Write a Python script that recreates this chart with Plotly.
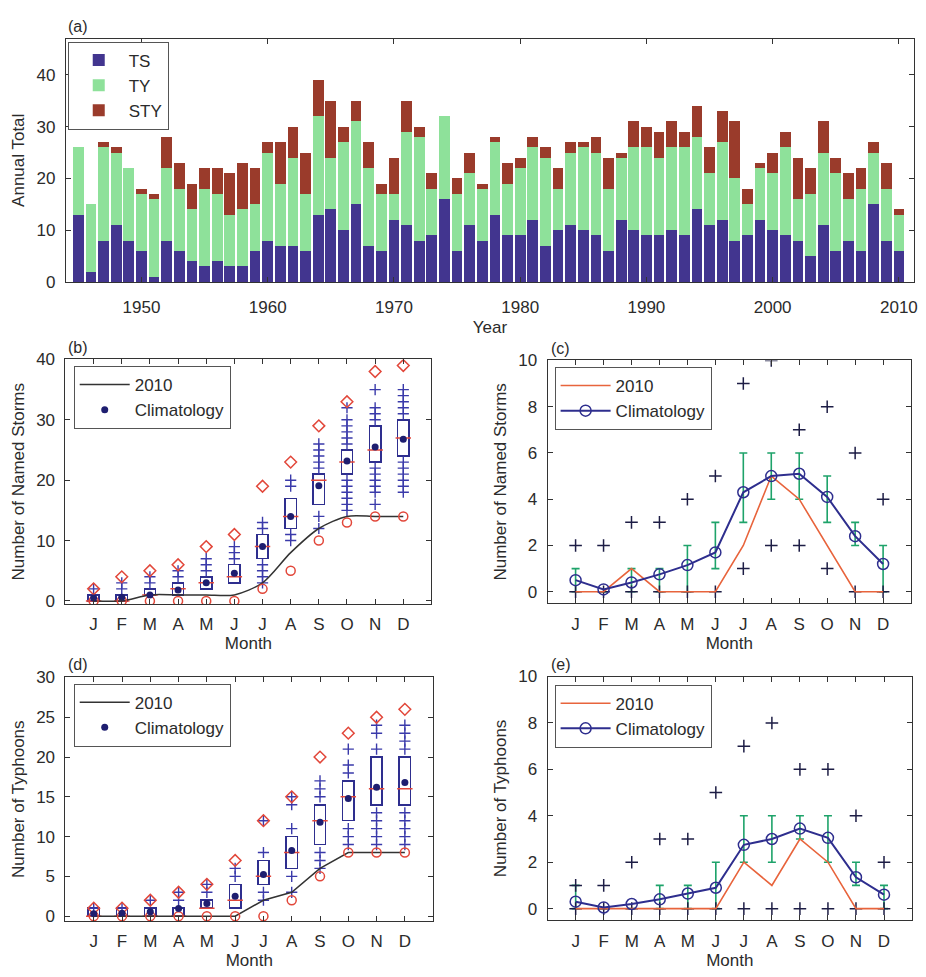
import plotly.graph_objects as go

# page body has an 8px default margin, so the figure is drawn 8px in from the top-left
OFF = 8
W, H = 926 - OFF, 977 - OFF

# ---------------- Panel (a) data ----------------
years = list(range(1945, 2011))
ts_counts = [13, 2, 8, 11, 8, 6, 1, 8, 6, 4, 3, 4, 3, 3, 6,
             8, 7, 7, 6, 13, 14, 10, 15, 7, 6,
             12, 11, 8, 9, 16, 6, 11, 8, 13, 9,
             9, 12, 7, 10, 11, 10, 9, 6, 12, 10,
             9, 9, 10, 9, 14, 11, 12, 8, 9, 12,
             10, 9, 8, 5, 11, 6, 8, 6, 15, 8,
             6]
ty_counts = [13, 13, 18, 14, 14, 11, 15, 14, 12, 10, 15, 13, 10, 11, 9,
             17, 12, 17, 11, 19, 10, 17, 16, 15, 11,
             5, 18, 20, 9, 16, 11, 10, 10, 14, 10,
             13, 14, 17, 8, 14, 16, 16, 12, 12, 16,
             17, 15, 16, 17, 14, 10, 15, 12, 6, 10,
             11, 17, 8, 12, 14, 15, 8, 12, 10, 10,
             7]
sty_counts = [0, 0, 1, 1, 0, 1, 1, 6, 5, 5, 4, 5, 8, 9, 7,
              2, 8, 6, 8, 7, 11, 3, 4, 5, 2,
              7, 6, 2, 3, 0, 3, 4, 1, 1, 4,
              2, 2, 2, 4, 2, 1, 3, 6, 1, 5,
              4, 5, 5, 3, 6, 5, 6, 11, 3, 1,
              4, 3, 8, 5, 6, 3, 5, 4, 2, 5,
              1]
year_ticks = [1950, 1960, 1970, 1980, 1990, 2000, 2010]

months = list(range(1, 13))
month_labels = ['J', 'F', 'M', 'A', 'M', 'J', 'J', 'A', 'S', 'O', 'N', 'D']

# ---------------- Panel (b) data: cumulative named storms ----------------
ns_cum_2010 = [0, 0, 1, 1, 1, 1, 3, 8, 12, 14, 14, 14]
ns_cum_mean = [0.5, 0.6, 1.0, 1.8, 3.0, 4.6, 9.0, 14.0, 19.1, 23.2, 25.5, 26.8]
ns_cum_q1 = [0, 0, 1, 1, 2, 3, 7, 12, 16, 21, 23, 24]
ns_cum_q3 = [1, 1, 2, 3, 4, 6, 11, 17, 21, 25, 29, 30]
ns_cum_med = [0, 0, 1, 2, 3, 4, 9, 14, 20, 23, 25, 27]
ns_cum_max = [2, 4, 5, 6, 9, 11, 19, 23, 29, 33, 38, 39]
ns_cum_min = [0, 0, 0, 0, 0, 0, 2, 5, 10, 13, 14, 14]
ns_cum_plus = [
    [2],
    [2, 3],
    [3, 4],
    [4, 5],
    [5, 6, 7],
    [7, 8, 9],
    [3, 4, 5, 6, 12, 13],
    [10, 11, 19, 20],
    [12, 14, 22, 23, 24, 25, 26],
    [15, 16, 17, 18, 19, 20, 26, 27, 28, 29, 30, 32],
    [16, 18, 19, 20, 21, 22, 30, 31, 32, 35],
    [18, 19, 20, 21, 22, 23, 31, 32, 33, 34, 35],
]

# ---------------- Panel (c) data: monthly named storms ----------------
ns_mon_2010 = [0, 0, 1, 0, 0, 0, 2, 5, 4, 2, 0, 0]
ns_mon_clim = [0.5, 0.1, 0.4, 0.75, 1.15, 1.7, 4.3, 5.0, 5.1, 4.1, 2.4, 1.2]
ns_mon_lo = [0, 0, 0, 0, 0, 1, 3, 4, 4, 3, 2, 0]
ns_mon_hi = [1, 0, 1, 1, 2, 3, 6, 6, 6, 5, 3, 2]
ns_mon_max = [2, 2, 3, 3, 4, 5, 9, 10, 7, 8, 6, 4]
ns_mon_min = [0, 0, 0, 0, 0, 0, 1, 2, 2, 1, 0, 0]

# ---------------- Panel (d) data: cumulative typhoons ----------------
ty_cum_2010 = [0, 0, 0, 0, 0, 0, 2, 3, 6, 8, 8, 8]
ty_cum_mean = [0.3, 0.35, 0.55, 0.95, 1.6, 2.5, 5.25, 8.25, 11.8, 14.8, 16.2, 16.8]
ty_cum_q1 = [0, 0, 0, 0, 1, 1, 4, 6, 9, 12, 14, 14]
ty_cum_q3 = [1, 1, 1, 1, 2, 4, 7, 10, 14, 17, 20, 20]
ty_cum_med = [0, 0, 0, 0, 1, 2, 5, 8, 12, 15, 16, 16]
ty_cum_max = [1, 1, 2, 3, 4, 7, 12, 15, 20, 23, 25, 26]
ty_cum_min = [0, 0, 0, 0, 0, 0, 0, 2, 5, 8, 8, 8]
ty_cum_plus = [
    [1],
    [1],
    [2],
    [2, 3],
    [3, 4],
    [5, 6],
    [2, 3, 8, 12],
    [3, 5, 11, 14, 15],
    [6, 7, 8, 15, 16, 17],
    [9, 10, 11, 18, 19, 21],
    [9, 10, 11, 12, 13, 21, 23, 24],
    [9, 10, 11, 12, 13, 21, 22, 23, 24],
]

# ---------------- Panel (e) data: monthly typhoons ----------------
ty_mon_2010 = [0, 0, 0, 0, 0, 0, 2, 1, 3, 2, 0, 0]
ty_mon_clim = [0.3, 0.05, 0.2, 0.4, 0.65, 0.9, 2.75, 3.0, 3.45, 3.05, 1.35, 0.6]
ty_mon_lo = [0, 0, 0, 0, 0, 0, 2, 2, 3, 2, 1, 0]
ty_mon_hi = [1, 0, 0, 1, 1, 2, 4, 4, 4, 4, 2, 1]
ty_mon_max = [1, 1, 2, 3, 3, 5, 7, 8, 6, 6, 4, 2]
ty_mon_min = [0, 0, 0, 0, 0, 0, 0, 0, 0, 0, 0, 0]

# ---------------- styles ----------------
FONT = "Liberation Sans, Arial, Helvetica, sans-serif"
TXT = '#2b2b2b'
C_TS = '#42358f'
C_TY = '#8ee19a'
C_STY = '#9a3b2b'
NAVY = '#2e2e8e'
BLUE_PLUS = '#3a3aaa'
RED = '#e2473a'
DARK = '#1d1d45'
ORANGE = '#e8643c'
GREEN = '#1ea36a'

fig = go.Figure()

# ---------- (a) stacked bars ----------
for name, vals, col in [('TS', ts_counts, C_TS), ('TY', ty_counts, C_TY), ('STY', sty_counts, C_STY)]:
    fig.add_trace(go.Bar(x=years, y=vals, name=name, legendgroup=name,
                         marker=dict(color=col, line=dict(width=0)),
                         xaxis='x', yaxis='y', legend='legend'))


def box_panel(xa, ya, lg, q1, q3, med, mean, mx, mn, plus, line2010, spline):
    # median (red) drawn first so the box outline covers it where it coincides with a quartile
    fig.add_trace(go.Scatter(x=months, y=med, mode='markers', showlegend=False, xaxis=xa, yaxis=ya,
                             marker=dict(symbol='line-ew', size=11, line=dict(color=RED, width=1.5))))
    # interquartile boxes
    fig.add_trace(go.Bar(x=months, base=q1, y=[b - a for a, b in zip(q1, q3)], width=0.4,
                         marker=dict(color='rgba(0,0,0,0)', line=dict(color=NAVY, width=1.5)),
                         showlegend=False, xaxis=xa, yaxis=ya, hoverinfo='skip'))
    px, py = [], []
    for m, vals in zip(months, plus):
        for v in vals:
            px.append(m)
            py.append(v)
    fig.add_trace(go.Scatter(x=px, y=py, mode='markers', showlegend=False, xaxis=xa, yaxis=ya,
                             marker=dict(symbol='cross-thin', size=8,
                                         line=dict(color=BLUE_PLUS, width=1.4))))
    fig.add_trace(go.Scatter(x=months, y=line2010, mode='lines', name='2010', xaxis=xa, yaxis=ya,
                             legend=lg,
                             line=dict(color='#333333', width=1.5,
                                       shape='spline' if spline else 'linear', smoothing=0.8)))
    fig.add_trace(go.Scatter(x=months, y=mx, mode='markers', showlegend=False, xaxis=xa, yaxis=ya,
                             marker=dict(symbol='diamond-open', size=9, color=RED,
                                         line=dict(color=RED, width=1.5))))
    fig.add_trace(go.Scatter(x=months, y=mn, mode='markers', showlegend=False, xaxis=xa, yaxis=ya,
                             marker=dict(symbol='circle-open', size=9, color=RED,
                                         line=dict(color=RED, width=1.5))))
    fig.add_trace(go.Scatter(x=months, y=mean, mode='markers', name='Climatology', xaxis=xa, yaxis=ya,
                             legend=lg, marker=dict(symbol='circle', size=7, color='#1e1e70')))


def line_panel(xa, ya, lg, clim, lo, hi, mx, mn, v2010):
    fig.add_trace(go.Scatter(x=months, y=clim, mode='markers', showlegend=False, xaxis=xa, yaxis=ya,
                             marker=dict(size=1, color='rgba(0,0,0,0)'),
                             error_y=dict(type='data', symmetric=False,
                                          array=[h - c for h, c in zip(hi, clim)],
                                          arrayminus=[c - l for c, l in zip(clim, lo)],
                                          color=GREEN, thickness=1.6, width=4)))
    fig.add_trace(go.Scatter(x=months + months, y=mx + mn, mode='markers', showlegend=False,
                             xaxis=xa, yaxis=ya,
                             marker=dict(symbol='cross-thin', size=9, line=dict(color=DARK, width=1.5))))
    fig.add_trace(go.Scatter(x=months, y=v2010, mode='lines', name='2010', xaxis=xa, yaxis=ya,
                             legend=lg, line=dict(color=ORANGE, width=1.6)))
    fig.add_trace(go.Scatter(x=months, y=clim, mode='lines+markers', name='Climatology',
                             xaxis=xa, yaxis=ya, legend=lg,
                             line=dict(color=NAVY, width=2),
                             marker=dict(symbol='circle-open', size=11, color=NAVY,
                                         line=dict(color=NAVY, width=1.5))))


box_panel('x2', 'y2', 'legend2', ns_cum_q1, ns_cum_q3, ns_cum_med, ns_cum_mean, ns_cum_max,
          ns_cum_min, ns_cum_plus, ns_cum_2010, True)
line_panel('x3', 'y3', 'legend3', ns_mon_clim, ns_mon_lo, ns_mon_hi, ns_mon_max, ns_mon_min, ns_mon_2010)
box_panel('x4', 'y4', 'legend4', ty_cum_q1, ty_cum_q3, ty_cum_med, ty_cum_mean, ty_cum_max,
          ty_cum_min, ty_cum_plus, ty_cum_2010, False)
line_panel('x5', 'y5', 'legend5', ty_mon_clim, ty_mon_lo, ty_mon_hi, ty_mon_max, ty_mon_min, ty_mon_2010)


def fx(p):
    return (p - OFF) / W


def fy(p):
    return 1 - (p - OFF) / H


axis_common = dict(showline=True, linecolor='#333333', linewidth=1, mirror='ticks', ticks='inside',
                   ticklen=5, tickcolor='#333333', showgrid=False, zeroline=False,
                   ticklabeloverflow='allow',
                   tickfont=dict(size=17, color=TXT, family=FONT))


def ax(**kw):
    d = dict(axis_common)
    d.update(kw)
    return d


def title(t, standoff):
    return dict(text=t, font=dict(size=17, color=TXT, family=FONT), standoff=standoff)


month_x = dict(tickmode='array', tickvals=months, ticktext=month_labels, range=[0, 13],
               ticklabelstandoff=5)
YSO = 6   # y tick label standoff
YTS = 7   # y title standoff

layout = dict(
    width=W, height=H, margin=dict(l=0, r=0, t=0, b=0), autosize=False,
    paper_bgcolor='white', plot_bgcolor='white',
    font=dict(family=FONT, color=TXT, size=17),
    barmode='stack', bargap=0.15,
    xaxis=ax(domain=[fx(66), fx(918)], anchor='y', range=[1944, 2011.2],
             tickmode='array', tickvals=year_ticks, ticklabelstandoff=10, title=title('Year', 4)),
    yaxis=ax(domain=[fy(278.3), fy(30)], anchor='x', range=[0, 47], ticklabelstandoff=YSO,
             tickmode='array', tickvals=[0, 10, 20, 30, 40], title=title('Annual Total', YTS)),
    xaxis2=ax(domain=[fx(65.7), fx(433.3)], anchor='y2', title=title('Month', 2), **month_x),
    yaxis2=ax(domain=[fy(606.7), fy(357.3)], anchor='x2', range=[-0.5, 40], ticklabelstandoff=YSO,
              tickmode='array', tickvals=[0, 10, 20, 30, 40], title=title('Number of Named Storms', YTS)),
    xaxis3=ax(domain=[fx(550), fx(915)], anchor='y3', title=title('Month', 2), **month_x),
    yaxis3=ax(domain=[fy(606), fy(358.3)], anchor='x3', range=[-0.5, 10], ticklabelstandoff=YSO,
              tickmode='array', tickvals=[0, 2, 4, 6, 8, 10], title=title('Number of Named Storms', YTS)),
    xaxis4=ax(domain=[fx(65.7), fx(435)], anchor='y4', title=title('Month', 2), **month_x),
    yaxis4=ax(domain=[fy(930), fy(681.7)], anchor='x4', range=[-0.6, 30], ticklabelstandoff=YSO,
              tickmode='array', tickvals=[0, 5, 10, 15, 20, 25, 30], title=title('Number of Typhoons', YTS)),
    xaxis5=ax(domain=[fx(550), fx(916)], anchor='y5', title=title('Month', 2), **month_x),
    yaxis5=ax(domain=[fy(929.3), fy(680.7)], anchor='x5', range=[-0.5, 10], ticklabelstandoff=YSO,
              tickmode='array', tickvals=[0, 2, 4, 6, 8, 10], title=title('Number of Typhoons', YTS)),
)

leg_common = dict(xanchor='left', yanchor='top', bgcolor='white', bordercolor='#555555', borderwidth=1,
                  font=dict(size=17, color=TXT, family=FONT), traceorder='normal', itemwidth=50)
layout['legend'] = dict(leg_common, x=fx(68), y=fy(33), tracegroupgap=0, traceorder='grouped')
layout['legend2'] = dict(leg_common, x=fx(74), y=fy(364))
layout['legend3'] = dict(leg_common, x=fx(557), y=fy(365))
layout['legend4'] = dict(leg_common, x=fx(74), y=fy(688))
layout['legend5'] = dict(leg_common, x=fx(557), y=fy(689))

fig.update_layout(**layout)

labels = [('(a)', 66, 18), ('(b)', 66, 345), ('(c)', 551, 346), ('(d)', 66, 668), ('(e)', 551, 668)]
for t, x, y in labels:
    fig.add_annotation(text=t, xref='paper', yref='paper', x=fx(x), y=fy(y), xanchor='left',
                       yanchor='middle', showarrow=False, font=dict(size=16, color=TXT, family=FONT))

fig.write_html("out.html")
